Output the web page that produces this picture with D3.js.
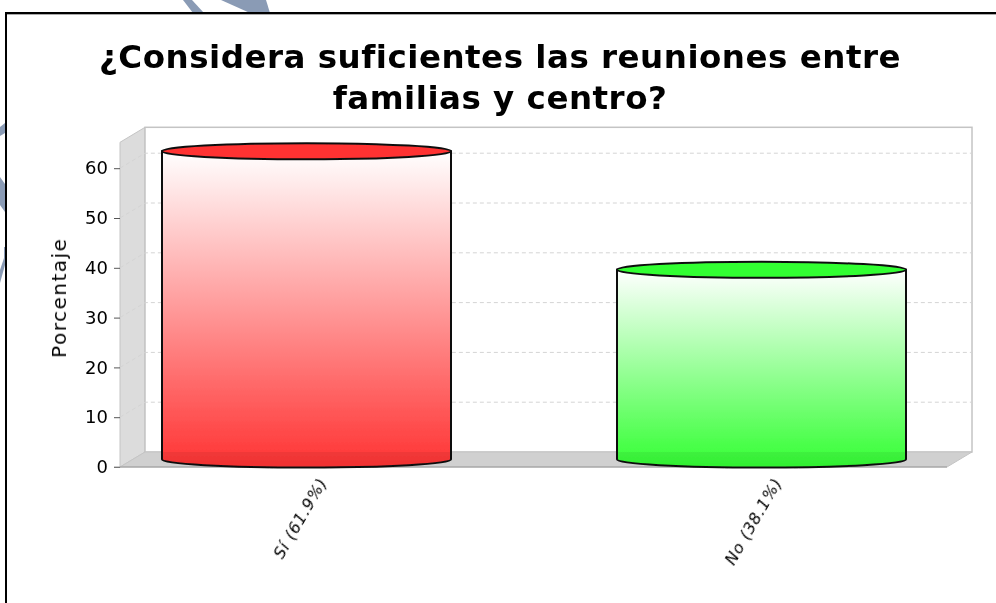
<!DOCTYPE html>
<html lang="en">
<head>
	<meta charset="utf-8">
	<title>Reuniones</title>
	<style>
		html, body { margin: 0; padding: 0; background: #fff; }
		svg { display: block; }
		text { font-family: "DejaVu Sans", sans-serif; }
	</style>
	<script type="text/javascript" src="https://d3js.org/d3.v7.min.js"></script>
</head>
<body>
	<script type="text/javascript">
		var titleLines = ["¿Considera suficientes las reuniones entre", "familias y centro?"];
		var categories = ["Sí (61.9%)", "No (38.1%)"];
		var values = [61.9, 38.1];
		var barColors = ["#ff3333", "#33ff33"];
		var yTicks = [0, 10, 20, 30, 40, 50, 60];
		var yLabel = "Porcentaje";

		var w = 996, h = 603;
		var depthX = 25, depthY = 15;
		var svg = d3.select("body").append("svg").attr("width", w).attr("height", h);

		// plot area (front plane)
		var left = 120, right = 947, bottom = 467;
		var yScale = d3.scaleLinear().domain([0, 10]).range([bottom, bottom - 49.8]);
		var xScale = d3.scaleBand().domain(categories).range([162, 906]).paddingInner(166 / 455);

		// background swooshes behind the frame
		var swoosh = svg.append("g").attr("fill", "#8a9bb5");
		swoosh.append("path").attr("d", "M183,0 L192,0 L204,13 L193,13 Z");
		swoosh.append("path").attr("d", "M221,0 L266,0 L270,13 L250,13 Z");
		swoosh.append("path").attr("d", "M0,127 L5,123 L5,133 L0,136 Z");
		swoosh.append("path").attr("d", "M0,177 L5,184 L5,212 L0,205 Z");
		swoosh.append("path").attr("d", "M4,247 L5,247 L5,265 L0,283 L0,270 L4,258 Z");

		// frame
		svg.append("rect").attr("x", 6).attr("y", 13).attr("width", w).attr("height", h)
			.attr("fill", "#fff").attr("stroke", "#000").attr("stroke-width", 2);
		svg.append("line").attr("x1", 7).attr("x2", w).attr("y1", 14.5).attr("y2", 14.5).attr("stroke", "#aaa");

		// the reference is an upscaled image, so everything is slightly soft
		svg.append("defs").append("filter").attr("id", "soft")
			.attr("filterUnits", "userSpaceOnUse")
			.attr("x", 0).attr("y", 0).attr("width", w).attr("height", h)
			.append("feGaussianBlur").attr("stdDeviation", 0.55);
		var chart = svg.append("g").attr("filter", "url(#soft)");

		chart.selectAll(".title").data(titleLines).enter().append("text")
			.attr("class", "title")
			.attr("x", 500)
			.attr("y", (d, i) => 68 + i * 41)
			.attr("text-anchor", "middle")
			.attr("font-size", "32.5px")
			.attr("font-weight", "bold")
			.attr("letter-spacing", "0.5px")
			.attr("fill", "#000")
			.text(d => d);

		// walls and floor
		var wallTop = yScale(65.2);
		chart.append("path")
			.attr("d", `M${left},${bottom} L${left + depthX},${bottom - depthY} L${left + depthX},${wallTop - depthY} L${left},${wallTop} Z`)
			.attr("fill", "#dcdcdc").attr("stroke", "#c4c4c4");
		chart.append("rect")
			.attr("x", left + depthX).attr("y", wallTop - depthY)
			.attr("width", right - left).attr("height", bottom - wallTop)
			.attr("fill", "#fff").attr("stroke", "#c4c4c4").attr("stroke-width", 1.5);
		chart.append("path")
			.attr("d", `M${left},${bottom} L${left + depthX},${bottom - depthY} L${right + depthX},${bottom - depthY} L${right},${bottom} Z`)
			.attr("fill", "#d0d0d0").attr("stroke", "#c4c4c4");

		// gridlines
		var grid = chart.append("g").attr("fill", "none").attr("stroke", "#d4d4d4").attr("stroke-dasharray", "4 3");
		grid.selectAll("path").data(yTicks.slice(1)).enter().append("path")
			.attr("d", d => `M${left},${yScale(d)} L${left + depthX},${yScale(d) - depthY} L${right + depthX},${yScale(d) - depthY}`);

		// y axis
		var yAxis = d3.axisLeft(yScale).tickValues(yTicks).tickSize(6).tickPadding(6).tickFormat(d3.format("d"));
		var axisG = chart.append("g").attr("transform", `translate(${left},0)`).call(yAxis);
		axisG.select(".domain").remove();
		axisG.selectAll("line").attr("stroke", "#555");
		axisG.selectAll("text").attr("font-size", "18px").attr("fill", "#000").style("font-family", "'DejaVu Sans', sans-serif");
		chart.append("line").attr("x1", left - 6).attr("x2", right).attr("y1", bottom).attr("y2", bottom).attr("stroke", "#999");

		chart.append("text")
			.attr("transform", `translate(66,${yScale(34)}) rotate(-90)`)
			.attr("text-anchor", "middle")
			.attr("font-size", "20px")
			.attr("letter-spacing", "1.5px")
			.attr("fill", "#000")
			.text(yLabel);

		// cylinders
		var defs = svg.select("defs");
		var ry = 8;
		categories.forEach(function (c, i) {
			var x0 = xScale(c), bw = xScale.bandwidth(), rx = bw / 2;
			var yTop = yScale(values[i]) - depthY / 2, yBase = yScale(0) - depthY / 2;
			var grad = defs.append("linearGradient").attr("id", "g" + i).attr("x1", 0).attr("x2", 0).attr("y1", 0).attr("y2", 1);
			grad.append("stop").attr("offset", 0).attr("stop-color", "#fff");
			grad.append("stop").attr("offset", 1).attr("stop-color", barColors[i]);
			var bodyPath = `M${x0},${yTop} L${x0},${yBase} A${rx},${ry} 0 0 0 ${x0 + bw},${yBase} L${x0 + bw},${yTop} Z`;
			defs.append("clipPath").attr("id", "c" + i).append("path").attr("d", bodyPath);
			chart.append("path").attr("d", bodyPath).attr("fill", `url(#g${i})`);
			// floor seen through the bar
			chart.append("rect").attr("x", x0).attr("y", bottom - depthY).attr("width", bw).attr("height", depthY + 2)
				.attr("clip-path", `url(#c${i})`).attr("fill", "#000").attr("opacity", 0.06);
			chart.append("path").attr("d", bodyPath).attr("fill", "none").attr("stroke", "#111").attr("stroke-width", 2);
			chart.append("ellipse").attr("cx", x0 + rx).attr("cy", yTop).attr("rx", rx).attr("ry", ry)
				.attr("fill", barColors[i]).attr("stroke", "#111").attr("stroke-width", 2);
			chart.append("text")
				.attr("transform", `translate(${x0 + rx + 21},${bottom + 15}) rotate(-60)`)
				.attr("text-anchor", "end")
				.attr("font-size", "16px")
				.attr("font-style", "italic")
				.attr("letter-spacing", "0.7px")
				.attr("fill", "#000")
				.text(c);
		});
	</script>
</body>
</html>
